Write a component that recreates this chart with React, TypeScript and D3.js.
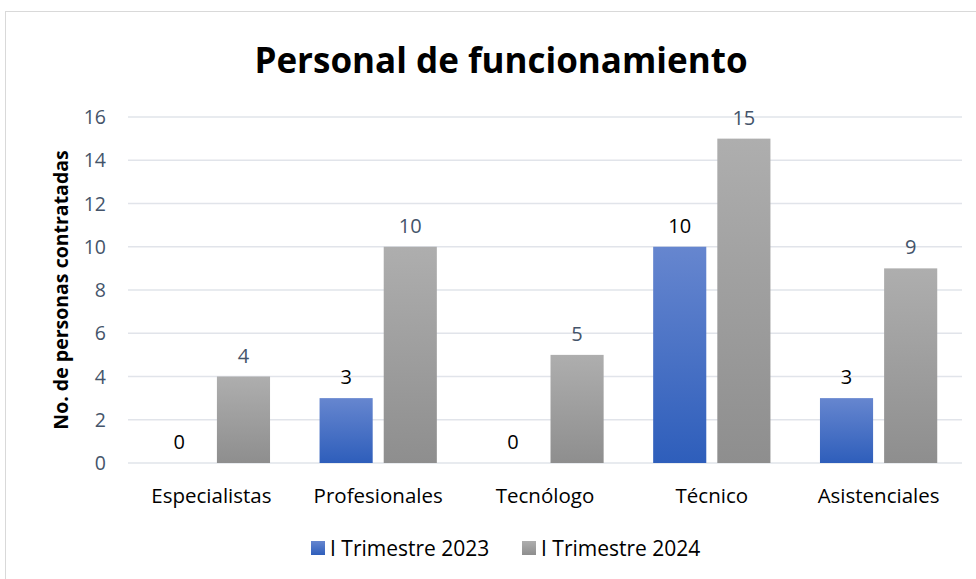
import React, { useEffect, useRef } from "react";
import * as d3 from "d3";

const categories = ["Especialistas", "Profesionales", "Tecnólogo", "Técnico", "Asistenciales"];
const series2023 = [0, 3, 0, 10, 3];
const series2024 = [4, 10, 5, 15, 9];
const seriesNames = ["I Trimestre 2023", "I Trimestre 2024"];
const yTicks = [0, 2, 4, 6, 8, 10, 12, 14, 16];

const W = 976;
const H = 579;
const FONT = "'Open Sans', 'Noto Sans', sans-serif";

export default function App() {
    const svgRef = useRef<SVGSVGElement>(null);

    useEffect(() => {
        const svg = d3.select(svgRef.current);
        svg.selectAll("*").remove();

        const left = 128, right = 962, top = 117, bottom = 463;

        const x = d3.scaleBand().domain(categories).range([left, right]).paddingInner(0).paddingOuter(0);
        const x1 = d3.scaleBand().domain(seriesNames).range([0, x.bandwidth()]).paddingInner(0.172).paddingOuter(0.386);
        const y = d3.scaleLinear().domain([0, 16]).range([bottom, top]);

        const defs = svg.append("defs");
        const grads = [["gBlue", "#6686CF", "#2E5EBB"], ["gGray", "#AEAEAE", "#8E8E8E"]];
        grads.forEach(([id, c1, c2]) => {
            const g = defs.append("linearGradient").attr("id", id).attr("x1", 0).attr("y1", 0).attr("x2", 0).attr("y2", 1);
            g.append("stop").attr("offset", "0%").attr("stop-color", c1);
            g.append("stop").attr("offset", "100%").attr("stop-color", c2);
        });
        const fills = ["url(#gBlue)", "url(#gGray)"];

        // marco
        svg.append("rect").attr("x", 5.5).attr("y", 11.5).attr("width", 1000).attr("height", 600)
            .attr("fill", "white").attr("stroke", "#D9D9D9");

        // titulo
        svg.append("text").attr("x", 501).attr("y", 73).attr("text-anchor", "middle")
            .attr("font-family", FONT).attr("font-weight", "bold").attr("font-size", 35)
            .attr("fill", "#000").text("Personal de funcionamiento");

        // grid
        svg.append("g").selectAll("line").data(yTicks).join("line")
            .attr("x1", left).attr("x2", right)
            .attr("y1", (d) => y(d)).attr("y2", (d) => y(d))
            .attr("stroke", "#E1E4EA").attr("stroke-width", 1.3);

        svg.append("g").selectAll("text").data(yTicks).join("text")
            .attr("x", 106).attr("y", (d) => y(d) + 7).attr("text-anchor", "end")
            .attr("font-family", FONT).attr("font-size", 19.5).attr("fill", "#44546A")
            .text((d) => d);

        // titulo eje y
        svg.append("text").attr("transform", `translate(68,${(top + bottom) / 2}) rotate(-90)`)
            .attr("text-anchor", "middle").attr("font-family", FONT).attr("font-weight", "bold")
            .attr("font-size", 19.5).attr("fill", "#000").text("No. de personas contratadas");

        const allSeries = [series2023, series2024];
        allSeries.forEach((vals, si) => {
            const g = svg.append("g");
            g.selectAll("rect").data(vals).join("rect")
                .attr("x", (d, i) => x(categories[i])! + x1(seriesNames[si])!)
                .attr("y", (d) => y(d))
                .attr("width", x1.bandwidth())
                .attr("height", (d) => bottom - y(d))
                .attr("fill", fills[si]);
            g.selectAll("text").data(vals).join("text")
                .attr("x", (d, i) => x(categories[i])! + x1(seriesNames[si])! + x1.bandwidth() / 2)
                .attr("y", (d) => y(d) - 14)
                .attr("text-anchor", "middle").attr("font-family", FONT).attr("font-size", 20)
                .attr("fill", si == 0 ? "#000" : "#44546A")
                .text((d) => d);
        });

        // categorias
        svg.append("g").selectAll("text").data(categories).join("text")
            .attr("x", (d) => x(d)! + x.bandwidth() / 2).attr("y", 503)
            .attr("text-anchor", "middle").attr("font-family", FONT).attr("font-size", 20.5)
            .attr("fill", "#000").text((d) => d);

        // leyenda
        const legX = [311, 522];
        seriesNames.forEach((name, i) => {
            svg.append("rect").attr("x", legX[i]).attr("y", 541).attr("width", 14).attr("height", 14)
                .attr("fill", fills[i]);
            svg.append("text").attr("x", legX[i] + 19).attr("y", 556)
                .attr("font-family", FONT).attr("font-size", 21).attr("fill", "#000").text(name);
        });
    }, []);

    return (
        <div style={{ position: "fixed", left: 0, top: 0 }}>
            <svg ref={svgRef} width={W} height={H} style={{ display: "block" }}></svg>
        </div>
    );
}
